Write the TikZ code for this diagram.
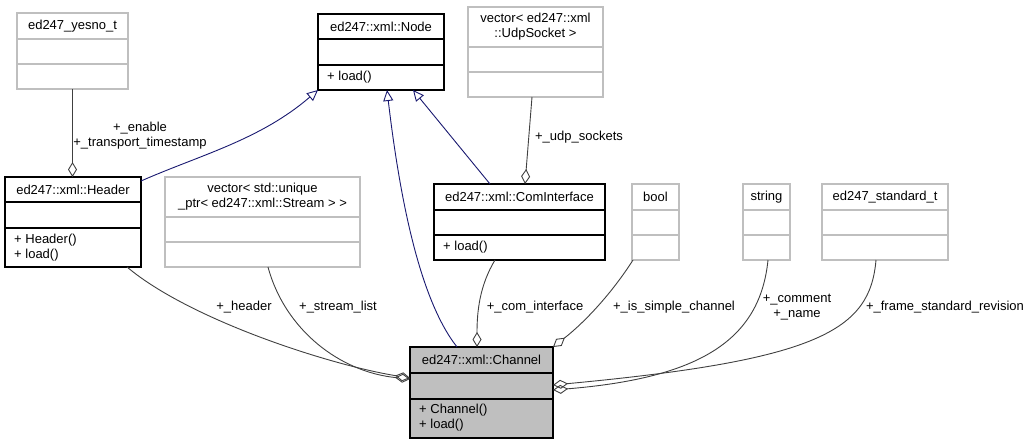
\documentclass[tikz,border=0pt]{standalone}
\usepackage{fontspec}
\setmainfont{Liberation Sans}
\usetikzlibrary{arrows.meta,calc}
\definecolor{grey75}{HTML}{BFBFBF}
\definecolor{grey25}{HTML}{404040}
\definecolor{midblue}{HTML}{191970}
\tikzset{
  txt/.style={font=\fontsize{13}{15}\selectfont, inner sep=0pt, align=center},
  docbox/.style={draw=black, line width=1.1pt, inner sep=0pt, outer sep=0pt},
  undocbox/.style={draw=grey75, line width=1.1pt, inner sep=0pt, outer sep=0pt},
  curbox/.style={draw=black, fill=grey75, line width=1.1pt, inner sep=0pt, outer sep=0pt},
  inh/.style={draw=midblue, line width=0.9pt, -{Triangle[open, length=11pt, width=10pt]}},
  agg/.style={draw=grey25, line width=0.9pt, -{Diamond[open, length=15pt, width=9pt]}},
}
\newcommand\umlbox[9]{%
  \node[#8, anchor=north west, minimum width={(#4-#2)*1pt}, minimum height={(#5-#3)*1pt}] (#1) at (#2,#3) {};
  \draw[#8, fill=none] (#2,#6) -- (#4,#6) (#2,#7) -- (#4,#7);
  \node[txt] (#1-t) at ({(#2+#4)/2},{(#3+#6)/2}) {#9};
}
\begin{document}
\begin{tikzpicture}[x=1pt, y=-1pt]
\useasboundingbox (0,0) rectangle (1031,445);
% boxes
\umlbox{yesno}{17}{13}{128}{89}{39}{64}{undocbox}{ed247\_yesno\_t}
\umlbox{node}{318}{14}{444}{90}{39}{65}{docbox}{ed247::xml::Node}
\umlbox{udp}{468}{7}{603}{97}{47}{72}{undocbox}{vector< ed247::xml\\::UdpSocket >}
\umlbox{hdr}{5}{177}{141}{267}{202}{228}{docbox}{ed247::xml::Header}
\umlbox{uniq}{165}{177}{360}{267}{217}{242}{undocbox}{vector< std::unique\\\_ptr< ed247::xml::Stream > >}
\umlbox{ci}{434}{184}{605}{260}{210}{235}{docbox}{ed247::xml::ComInterface}
\umlbox{bool}{632}{184}{679}{260}{210}{235}{undocbox}{bool}
\umlbox{str}{743}{184}{790}{260}{210}{235}{undocbox}{string}
\umlbox{std}{822}{184}{948}{260}{210}{235}{undocbox}{ed247\_standard\_t}
\umlbox{ch}{410}{347}{553}{438}{373}{399}{curbox}{ed247::xml::Channel}
% methods
\node[txt, align=left, anchor=west] (node-m) at (327,77.5) {+ load()};
\node[txt, align=left, anchor=west] (hdr-m) at (14,247.5) {+ Header()\\+ load()};
\node[txt, align=left, anchor=west] (ci-m) at (443,247.5) {+ load()};
\node[txt, align=left, anchor=west] (ch-m) at (419,417.5) {+ Channel()\\+ load()};
% inheritance
\draw[inh] ($(hdr.north east)+(0,4)$) .. controls (200,155) and (260,140) .. (node.south west);
\draw[inh] ($(ch.north west)+(47,0)$) .. controls (420,300) and (400,200) .. ($(node.south west)+(69,0)$);
\draw[inh] ($(ci.north west)+(56,0)$) -- ($(node.south west)+(95,0)$);
% aggregation
\draw[agg] (yesno.south) -- (yesno.south |- hdr.north);
\draw[agg] ($(udp.south west)+(64,0)$) -- ($(ci.north west)+(91,0)$);
\draw[agg] ($(hdr.south east)+(-14,0)$) .. controls (190,320) and (330,365) .. ($(ch.north west)+(0,31)$);
\draw[agg] ($(uniq.south west)+(103,0)$) .. controls (285,330) and (340,372) .. ($(ch.north west)+(0,32)$);
\draw[agg] ($(ci.south west)+(61,0)$) .. controls (480,285) and (477,310) .. ($(ch.north west)+(67,0)$);
\draw[agg] ($(bool.south west)+(1,0)$) .. controls (612,293) and (585,322) .. (ch.north east);
\draw[agg] ($(str.south west)+(25,0)$) .. controls (760,340) and (700,378) .. ($(ch.north east)+(0,43)$);
\draw[agg] ($(std.south west)+(54,0)$) .. controls (870,330) and (820,360) .. ($(ch.north east)+(0,38)$);
% labels
\node[txt] (l-yes) at (140,136) {+\_enable\\+\_transport\_timestamp};
\node[txt] (l-udp) at (579,137) {+\_udp\_sockets};
\node[txt] (l-hdr) at (244,307) {+\_header};
\node[txt] (l-str) at (338,307) {+\_stream\_list};
\node[txt] (l-ci) at (535,307) {+\_com\_interface};
\node[txt] (l-bool) at (674,307) {+\_is\_simple\_channel};
\node[txt] (l-cmt) at (797,307) {+\_comment\\+\_name};
\node[txt] (l-std) at (945,307) {+\_frame\_standard\_revision};
\end{tikzpicture}
\end{document}
